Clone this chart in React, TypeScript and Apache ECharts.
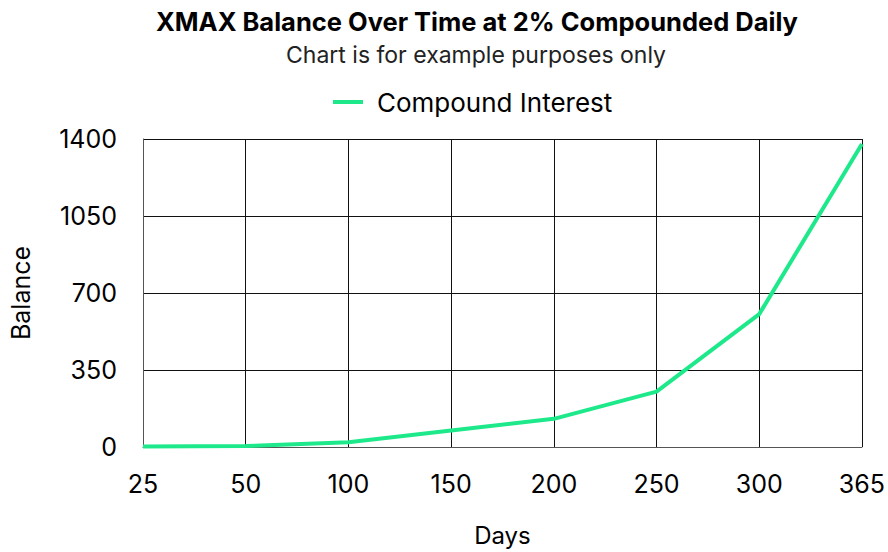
import React, { useEffect, useRef } from "react";
import * as echarts from "echarts";

const days = ["25", "50", "100", "150", "200", "250", "300", "365"];
const balance = [2, 4, 22, 75, 128, 252, 604, 1377];
const yTicks = { min: 0, max: 1400, interval: 350 };

const FONT = "Inter, 'Noto Sans', sans-serif";

export default function App() {
  const ref = useRef<HTMLDivElement>(null);
  useEffect(() => {
    if (!ref.current) return;
    const chart = echarts.init(ref.current, undefined, { renderer: "svg" });
    chart.setOption({
      animation: false,
      backgroundColor: "#ffffff",
      textStyle: { fontFamily: FONT, color: "#000" },
      title: [
        {
          text: "XMAX Balance Over Time at 2% Compounded Daily",
          left: 477,
          top: 8,
          padding: 0,
          textAlign: "center",
          textStyle: { fontFamily: FONT, fontSize: 25.5, fontWeight: "bold", color: "#000" },
        },
        {
          text: "Chart is for example purposes only",
          left: 476,
          top: 43,
          padding: 0,
          textAlign: "center",
          textStyle: { fontFamily: FONT, fontSize: 23, fontWeight: "normal", color: "#222" },
        },
      ],
      legend: {
        data: ["Compound Interest"],
        top: 84,
        left: 328,
        icon: "rect",
        itemWidth: 30,
        itemHeight: 4,
        textStyle: { fontFamily: FONT, fontSize: 26, color: "#000", padding: [0, 0, 0, 9] },
      },
      grid: { left: 142, right: 24, top: 139, bottom: 102, containLabel: false },
      xAxis: {
        type: "category",
        data: days,
        boundaryGap: false,
        name: "Days",
        nameLocation: "middle",
        nameGap: 76,
        nameTextStyle: { fontFamily: FONT, fontSize: 24, color: "#000" },
        axisLine: { show: true, lineStyle: { color: "#555", width: 1 } },
        axisTick: { show: false },
        axisLabel: { fontFamily: FONT, fontSize: 25, color: "#000", margin: 24 },
        splitLine: { show: true, lineStyle: { color: "#111", width: 1 } },
      },
      yAxis: {
        type: "value",
        min: yTicks.min,
        max: yTicks.max,
        interval: yTicks.interval,
        name: "Balance",
        nameLocation: "middle",
        nameGap: 110,
        nameTextStyle: { fontFamily: FONT, fontSize: 25, color: "#000" },
        axisLine: { show: true, lineStyle: { color: "#555", width: 1 } },
        axisTick: { show: false },
        axisLabel: {
          fontFamily: FONT,
          fontSize: 25,
          color: "#000",
          margin: 26,
          formatter: (v: number) => String(v),
        },
        splitLine: { show: true, lineStyle: { color: "#111", width: 1 } },
      },
      series: [
        {
          name: "Compound Interest",
          type: "line",
          data: balance,
          showSymbol: false,
          symbol: "none",
          lineStyle: { color: "#1DE98B", width: 4 },
          itemStyle: { color: "#1DE98B" },
        },
      ],
    });
    return () => chart.dispose();
  }, []);
  return (
    <div
      ref={ref}
      style={{ position: "absolute", left: 0, top: 0, width: 888, height: 552 }}
    />
  );
}
